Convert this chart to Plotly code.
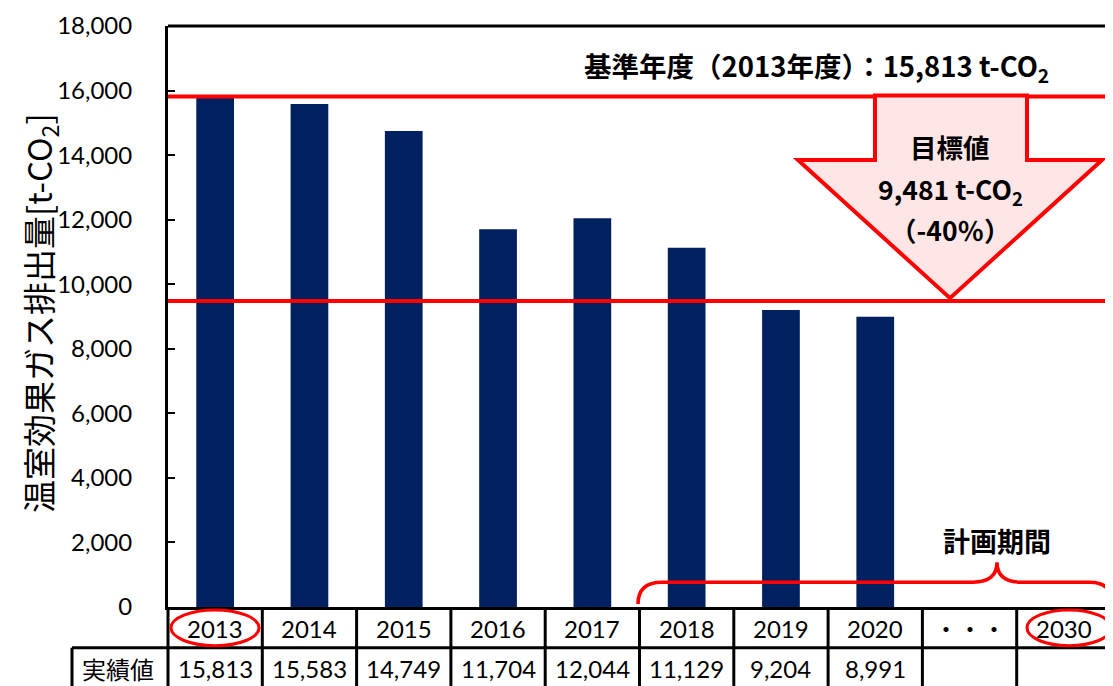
import plotly.graph_objects as go

# ---- data ----
years = ["2013", "2014", "2015", "2016", "2017", "2018", "2019", "2020", "・・・", "2030"]
emissions = [15813, 15583, 14749, 11704, 12044, 11129, 9204, 8991, None, None]
base_value = 15813
target_value = 9481
row_label = "実績値"
y_title = "温室効果ガス排出量[t-CO<sub>2</sub>]"
base_text = "基準年度（2013年度）：15,813 t-CO<sub>2</sub>"
target_lines = ["目標値", "9,481 t-CO<sub>2</sub>", "（-40％）"]
period_text = "計画期間"

# page body has an 8px margin, so the figure is drawn 8px smaller and everything
# below is expressed in window pixels
OFF = 8
W, H = 1113 - OFF, 686 - OFF
L, R, T, B = 168, 1111, 22, 607          # plot area in window pixels

def px(x):
    return (x - L) / (R - L)

def py(y):
    return (B - y) / (B - T)

NUM_FONT = "Lato, Noto Sans CJK JP, sans-serif"
JP_FONT = "Noto Sans CJK JP, sans-serif"
RED = "#FF0000"

idx = list(range(len(years)))

fig = go.Figure()
fig.add_trace(go.Bar(
    x=idx, y=emissions, marker=dict(color="#002060", line=dict(width=0)),
    width=0.4, customdata=years, hovertemplate="%{customdata}: %{y:,}<extra></extra>",
))

shapes = []
# frame: top black border, right thin gray border
shapes.append(dict(type="line", xref="paper", yref="paper", x0=0, x1=1, y0=1, y1=1,
                   line=dict(color="black", width=3)))
shapes.append(dict(type="line", xref="paper", yref="paper", x0=1, x1=1, y0=1, y1=py(700),
                   line=dict(color="#BBBBBB", width=1)))
# reference lines
for v in (base_value, target_value):
    shapes.append(dict(type="line", xref="paper", yref="y", x0=0, x1=1, y0=v, y1=v,
                       line=dict(color=RED, width=4)))
# arrow
pts = [(875, 92), (1027, 92), (1027, 157), (1102, 157), (950, 296), (798, 157), (875, 157)]
path = "M " + " L ".join(f"{px(a):.5f},{py(b):.5f}" for a, b in pts) + " Z"
shapes.append(dict(type="path", xref="paper", yref="paper", path=path,
                   fillcolor="#FFE6E6", line=dict(color=RED, width=4)))
# table lines
n = len(years)
for k in range(1, n):
    shapes.append(dict(type="line", xref="x", yref="paper", x0=k - 0.5, x1=k - 0.5,
                       y0=0, y1=py(700), line=dict(color="black", width=3)))
shapes.append(dict(type="line", xref="paper", yref="paper", x0=0, x1=0, y0=0, y1=py(700),
                   line=dict(color="black", width=3)))
shapes.append(dict(type="line", xref="paper", yref="paper", x0=px(72), x1=1, y0=py(648), y1=py(648),
                   line=dict(color="black", width=3)))
shapes.append(dict(type="line", xref="paper", yref="paper", x0=px(72), x1=px(72), y0=py(648), y1=py(700),
                   line=dict(color="black", width=3)))
# ellipses
for (xa, xb) in ((171, 259), (1027, 1111)):
    shapes.append(dict(type="circle", xref="paper", yref="paper", x0=px(xa), x1=px(xb),
                       y0=py(610), y1=py(646), line=dict(color=RED, width=3)))
# curly brace
bp = [("M", (638, 604)), ("Q", (638, 582), (662, 582)), ("L", (973, 582)),
      ("Q", (997, 582), (997, 562)), ("Q", (997, 582), (1021, 582)), ("L", (1090, 582)),
      ("Q", (1112, 582), (1112, 604))]
seg = []
for item in bp:
    cmd = item[0]
    coords = " ".join(f"{px(a):.5f},{py(b):.5f}" for a, b in item[1:])
    seg.append(f"{cmd} {coords}")
shapes.append(dict(type="path", xref="paper", yref="paper", path=" ".join(seg),
                   line=dict(color=RED, width=3.5)))

def ann(x, y, text, font, xref="paper", **kw):
    d = dict(x=x, y=y, xref=xref, yref="paper", text=text, showarrow=False,
             xanchor="center", yanchor="middle", font=font)
    d.update(kw)
    return d

annotations = []
numf = dict(family=NUM_FONT, size=24, color="black")
for i, yr in enumerate(years):
    annotations.append(ann(i, py(629), yr, numf, xref="x"))
    if emissions[i] is not None:
        annotations.append(ann(i, py(669), f"{emissions[i]:,}", numf, xref="x"))
annotations.append(ann(px(118), py(669), row_label, dict(family=JP_FONT, size=24, color="black")))
annotations.append(ann(px(40), py(311), y_title, dict(family=JP_FONT, size=33, color="black"),
                       textangle=-90))
annotations.append(ann(px(816), py(63), base_text,
                       dict(family=JP_FONT, size=27.5, color="black", weight="bold")))
boldf = dict(family=JP_FONT, size=26.5, color="black", weight="bold")
for line, yy in zip(target_lines, (143, 187, 227)):
    annotations.append(ann(px(950), py(yy), line, boldf))
annotations.append(ann(px(997), py(540), period_text,
                       dict(family=JP_FONT, size=27, color="black", weight="bold")))

fig.update_layout(
    width=W, height=H,
    margin=dict(l=L - OFF, r=W - (R - OFF), t=T - OFF, b=H - (B - OFF), pad=0),
    plot_bgcolor="white", paper_bgcolor="white",
    showlegend=False,
    shapes=shapes, annotations=annotations,
    xaxis=dict(range=[-0.5, n - 0.5], showline=True, linecolor="black", linewidth=3,
               showticklabels=False, ticks="", showgrid=False, zeroline=False, fixedrange=True),
    yaxis=dict(range=[0, 18000], tickvals=list(range(0, 18001, 2000)), tickformat=",",
               ticks="inside", ticklen=7, tickwidth=2, tickcolor="black",
               showline=True, linecolor="black", linewidth=3, showgrid=False, zeroline=False,
               ticklabelstandoff=28, ticklabeloverflow="allow",
               tickfont=dict(family=NUM_FONT, size=24, color="black"), fixedrange=True),
)

fig.write_html("out.html")
